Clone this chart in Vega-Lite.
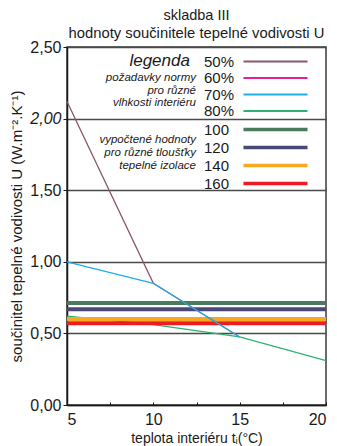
{
  "$schema": "https://vega.github.io/schema/vega-lite/v6.json",
  "width": 259,
  "height": 358,
  "autosize": "none",
  "padding": {"left": 67, "top": 47, "right": 11, "bottom": 41},
  "background": "white",
  "config": {
    "font": "Liberation Sans",
    "view": {"stroke": "#3a3a3a", "strokeWidth": 1.5},
    "axis": {"labelColor": "#1a1a1a", "titleColor": "#1a1a1a", "titleFontWeight": "normal"}
  },
  "title": {
    "text": "skladba III",
    "subtitle": "hodnoty součinitele tepelné vodivosti U",
    "fontSize": 14.5,
    "fontWeight": "normal",
    "subtitleFontSize": 14.8,
    "subtitleColor": "#1a1a1a",
    "color": "#1a1a1a",
    "subtitlePadding": 3,
    "offset": -3,
    "anchor": "middle"
  },
  "datasets": {
    "vlhkost": [
      {"vlhkost": "80%", "t": 5, "U": 0.62},
      {"vlhkost": "80%", "t": 10, "U": 0.562},
      {"vlhkost": "80%", "t": 15, "U": 0.475},
      {"vlhkost": "80%", "t": 20, "U": 0.31},
      {"vlhkost": "50%", "t": 5, "U": 2.12},
      {"vlhkost": "50%", "t": 10, "U": 0.85},
      {"vlhkost": "50%", "t": 15, "U": 0.475},
      {"vlhkost": "70%", "t": 5, "U": 1.0},
      {"vlhkost": "70%", "t": 10, "U": 0.85},
      {"vlhkost": "70%", "t": 15, "U": 0.475}
    ],
    "izolace": [
      {"tl": "100", "U": 0.713},
      {"tl": "120", "U": 0.669},
      {"tl": "140", "U": 0.6},
      {"tl": "160", "U": 0.571}
    ],
    "popisky": [
      {"skupina": "legenda", "popis": "legenda"},
      {"skupina": "normy", "popis": "požadavky normy\npro různé\nvlhkosti interiéru"},
      {"skupina": "izolace", "popis": "vypočtené hodnoty\npro různé tloušťky\ntepelné izolace"}
    ]
  },
  "layer": [
    {
      "data": {"name": "vlhkost"},
      "transform": [{"filter": "datum.vlhkost == '80%'"}],
      "mark": {"type": "line", "strokeWidth": 1.3},
      "encoding": {
        "x": {
          "field": "t",
          "type": "quantitative",
          "scale": {"domain": [5, 20], "nice": false, "zero": false},
          "axis": {
            "title": "teplota interiéru tᵢ(°C)",
            "titleFontSize": 14,
            "titlePadding": 4,
            "values": [5, 7.5, 10, 12.5, 15, 17.5, 20],
            "labelExpr": "datum.value % 5 == 0 ? format(datum.value, 'd') : ''",
            "labelFontSize": 16,
            "labelPadding": 9,
            "tickSize": -3,
            "tickColor": "#1a1a1a",
            "domainColor": "#1a1a1a",
            "domainWidth": 1.5,
            "grid": false
          }
        },
        "y": {
          "field": "U",
          "type": "quantitative",
          "scale": {"domain": [0, 2.5], "nice": false, "zero": true},
          "axis": {
            "title": "součinitel tepelné vodivosti U (W.m⁻².K⁻¹)",
            "titleFontSize": 15,
            "titlePadding": 5,
            "values": [0, 0.5, 1, 1.5, 2, 2.5],
            "labelExpr": "replace(format(datum.value, '.2f'), '.', ',')",
            "labelFontSize": 16,
            "labelFontStyle": {"condition": {"test": "datum.value == 2", "value": "italic"}, "value": "normal"},
            "labelPadding": 2,
            "tickSize": 4,
            "tickColor": "#1a1a1a",
            "domainColor": "#1a1a1a",
            "domainWidth": 1.5,
            "grid": true,
            "gridColor": "#4a4a4a",
            "gridWidth": 1.5,
            "gridOpacity": 1
          }
        },
        "stroke": {
          "field": "vlhkost",
          "type": "nominal",
          "scale": {
            "domain": ["50%", "60%", "70%", "80%"],
            "range": ["#8b5470", "#ec1e8c", "#1cb0e8", "#2db36f"]
          },
          "legend": {
            "orient": "none",
            "legendX": 201,
            "legendY": 7,
            "padding": 0,
            "title": null,
            "symbolType": "M-6,0H6",
            "symbolSize": 114,
            "symbolStrokeWidth": 2,
            "labelAlign": "left",
            "labelOffset": -79,
            "labelFontSize": 15,
            "labelColor": "#1a1a1a",
            "rowPadding": 0.5
          }
        }
      }
    },
    {
      "data": {"name": "izolace"},
      "mark": {"type": "rule", "strokeWidth": 4},
      "encoding": {
        "y": {"field": "U", "type": "quantitative"},
        "color": {
          "field": "tl",
          "type": "nominal",
          "scale": {
            "domain": ["100", "120", "140", "160"],
            "range": ["#4a7b5c", "#4a4877", "#f7a823", "#ed1c24"]
          },
          "legend": {
            "orient": "none",
            "legendX": 201,
            "legendY": 75,
            "padding": 0,
            "title": null,
            "symbolType": "M-6,0H6",
            "symbolSize": 114,
            "symbolStrokeWidth": 3.5,
            "labelAlign": "left",
            "labelOffset": -79,
            "labelFontSize": 15,
            "labelColor": "#1a1a1a",
            "rowPadding": 2
          }
        }
      }
    },
    {
      "data": {"name": "vlhkost"},
      "transform": [{"filter": "datum.vlhkost != '80%'"}],
      "mark": {"type": "line", "strokeWidth": 1.3},
      "encoding": {
        "x": {"field": "t", "type": "quantitative"},
        "y": {"field": "U", "type": "quantitative"},
        "stroke": {"field": "vlhkost", "type": "nominal"}
      }
    },
    {
      "data": {"name": "popisky"},
      "transform": [{"filter": "datum.skupina == 'legenda'"}],
      "mark": {
        "type": "text",
        "align": "right",
        "baseline": "middle",
        "fontSize": 17,
        "fontStyle": "italic",
        "color": "#1a1a1a"
      },
      "encoding": {
        "text": {"field": "popis"},
        "x": {"datum": 12.12, "type": "quantitative"},
        "y": {"datum": 2.4, "type": "quantitative"}
      }
    },
    {
      "data": {"name": "popisky"},
      "transform": [{"filter": "datum.skupina == 'normy'"}],
      "mark": {
        "type": "text",
        "align": "right",
        "baseline": "middle",
        "fontSize": 11.5,
        "fontStyle": "italic",
        "lineBreak": "\n",
        "lineHeight": 12.5,
        "color": "#1a1a1a"
      },
      "encoding": {
        "text": {"field": "popis"},
        "x": {"datum": 12.47, "type": "quantitative"},
        "y": {"datum": 2.283, "type": "quantitative"}
      }
    },
    {
      "data": {"name": "popisky"},
      "transform": [{"filter": "datum.skupina == 'izolace'"}],
      "mark": {
        "type": "text",
        "align": "right",
        "baseline": "middle",
        "fontSize": 11.5,
        "fontStyle": "italic",
        "lineBreak": "\n",
        "lineHeight": 12.8,
        "color": "#1a1a1a"
      },
      "encoding": {
        "text": {"field": "popis"},
        "x": {"datum": 12.47, "type": "quantitative"},
        "y": {"datum": 1.851, "type": "quantitative"}
      }
    }
  ]
}
